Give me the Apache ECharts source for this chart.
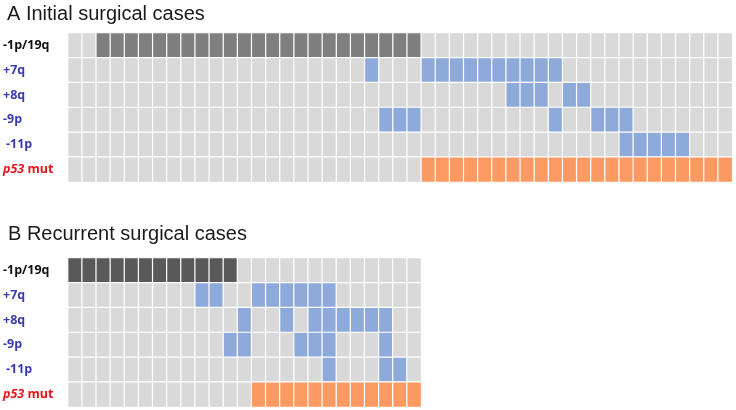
<!DOCTYPE html>
<html>
<head>
<meta charset="utf-8">
<script src="https://cdn.jsdelivr.net/npm/echarts@6/dist/echarts.min.js"></script>
<style>
    html, body { margin: 0; padding: 0; background: #fff; }
    #main { width: 736px; height: 410px; }
</style>
</head>
<body>
<div id="main"></div>
<script>
// markers (rows), top to bottom
var markers = ['-1p/19q', '+7q', '+8q', '-9p', '-11p', 'p53 mut'];

// A: initial surgical cases, 47 cases, 1 = altered (groups of 5 cases)
var initial1p19q = '00111 11111 11111 11111 11111 00000 00000 00000 00000 00';
var initial7q    = '00000 00000 00000 00000 01000 11111 11111 00000 00000 00';
var initial8q    = '00000 00000 00000 00000 00000 00000 01110 11000 00000 00';
var initial9p    = '00000 00000 00000 00000 00111 00000 00001 00111 00000 00';
var initial11p   = '00000 00000 00000 00000 00000 00000 00000 00001 11110 00';
var initialP53   = '00000 00000 00000 00000 00000 11111 11111 11111 11111 11';

// B: recurrent surgical cases, 25 cases
var recurrent1p19q = '11111 11111 11000 00000 00000';
var recurrent7q    = '00000 00001 10011 11110 00000';
var recurrent8q    = '00000 00000 00100 10111 11100';
var recurrent9p    = '00000 00000 01100 01110 00100';
var recurrent11p   = '00000 00000 00000 00010 00110';
var recurrentP53   = '00000 00000 00011 11111 11111';

var initialRows = [initial1p19q, initial7q, initial8q, initial9p, initial11p, initialP53];
var recurrentRows = [recurrent1p19q, recurrent7q, recurrent8q, recurrent9p, recurrent11p, recurrentP53];

var colors = {
    none: '#d9d9d9',
    codelA: '#7f7f7f',
    codelB: '#595959',
    cnv: '#8eaadb',
    p53: '#fb9a63'
};

function parseRow(s) {
    return s.replace(/ /g, '').split('').map(Number);
}

function buildData(rows, codelColor) {
    var data = [];
    for (var r = 0; r < rows.length; r++) {
        var vals = parseRow(rows[r]);
        for (var c = 0; c < vals.length; c++) {
            var col = colors.none;
            if (vals[c] == 1) {
                if (r == 0) col = codelColor;
                else if (r == rows.length - 1) col = colors.p53;
                else col = colors.cnv;
            }
            data.push({ value: [c, r, vals[c]], itemStyle: { color: col } });
        }
    }
    return data;
}

function cases(n) {
    var arr = [];
    for (var i = 1; i <= n; i++) arr.push(String(i));
    return arr;
}

var nA = parseRow(initial1p19q).length;
var nB = parseRow(recurrent1p19q).length;
var cellW = 14.14;

function labelFmt(v) {
    if (v == 'p53 mut') return '{it|p53}{red| mut}';
    if (v == '-1p/19q') return '{blk|' + v + '}';
    if (v == '-11p') return '{ind|' + v + '}';
    return '{blu|' + v + '}';
}

var lblFont = 'Open Sans';
var richStyle = {
    blk: { color: '#111', fontWeight: 'bold', fontSize: 12.5, fontFamily: lblFont },
    blu: { color: '#3a3ab0', fontWeight: 'bold', fontSize: 12.5, fontFamily: lblFont },
    ind: { color: '#3a3ab0', fontWeight: 'bold', fontSize: 12.5, fontFamily: lblFont, padding: [0, 0, 0, 3] },
    it: { color: '#e8141b', fontWeight: 'bold', fontStyle: 'italic', fontSize: 12.5, fontFamily: lblFont },
    red: { color: '#e8141b', fontWeight: 'bold', fontSize: 12.5, fontFamily: lblFont }
};

var titleStyle = {
    fontFamily: '"Liberation Sans", Arial, sans-serif',
    fontWeight: 'normal',
    fontSize: 20,
    color: '#1a1a1a'
};

function yAxis(idx) {
    return {
        type: 'category',
        gridIndex: idx,
        data: markers,
        inverse: true,
        axisLine: { show: false },
        axisTick: { show: false },
        splitLine: { show: false },
        axisLabel: {
            align: 'left',
            margin: 65,
            formatter: labelFmt,
            rich: richStyle
        }
    };
}

function xAxis(idx, n) {
    return {
        type: 'category',
        gridIndex: idx,
        data: cases(n),
        show: false
    };
}

var myChart = echarts.init(document.getElementById('main'));
var option = {
    animation: false,
    backgroundColor: '#fff',
    title: [
        { text: 'A Initial surgical cases', left: 2, top: -1, textStyle: titleStyle },
        { text: 'B Recurrent surgical cases', left: 3, top: 219, textStyle: titleStyle }
    ],
    grid: [
        { left: 67.7, top: 33, width: nA * cellW, height: 149 },
        { left: 67.7, top: 258, width: nB * cellW, height: 149 }
    ],
    xAxis: [xAxis(0, nA), xAxis(1, nB)],
    yAxis: [yAxis(0), yAxis(1)],
    series: [
        {
            type: 'heatmap',
            xAxisIndex: 0,
            yAxisIndex: 0,
            data: buildData(initialRows, colors.codelA),
            itemStyle: { borderColor: '#fff', borderWidth: 1.2 },
            emphasis: { disabled: true }
        },
        {
            type: 'heatmap',
            xAxisIndex: 1,
            yAxisIndex: 1,
            data: buildData(recurrentRows, colors.codelB),
            itemStyle: { borderColor: '#fff', borderWidth: 1.2 },
            emphasis: { disabled: true }
        }
    ]
};
myChart.setOption(option);
</script>
</body>
</html>
